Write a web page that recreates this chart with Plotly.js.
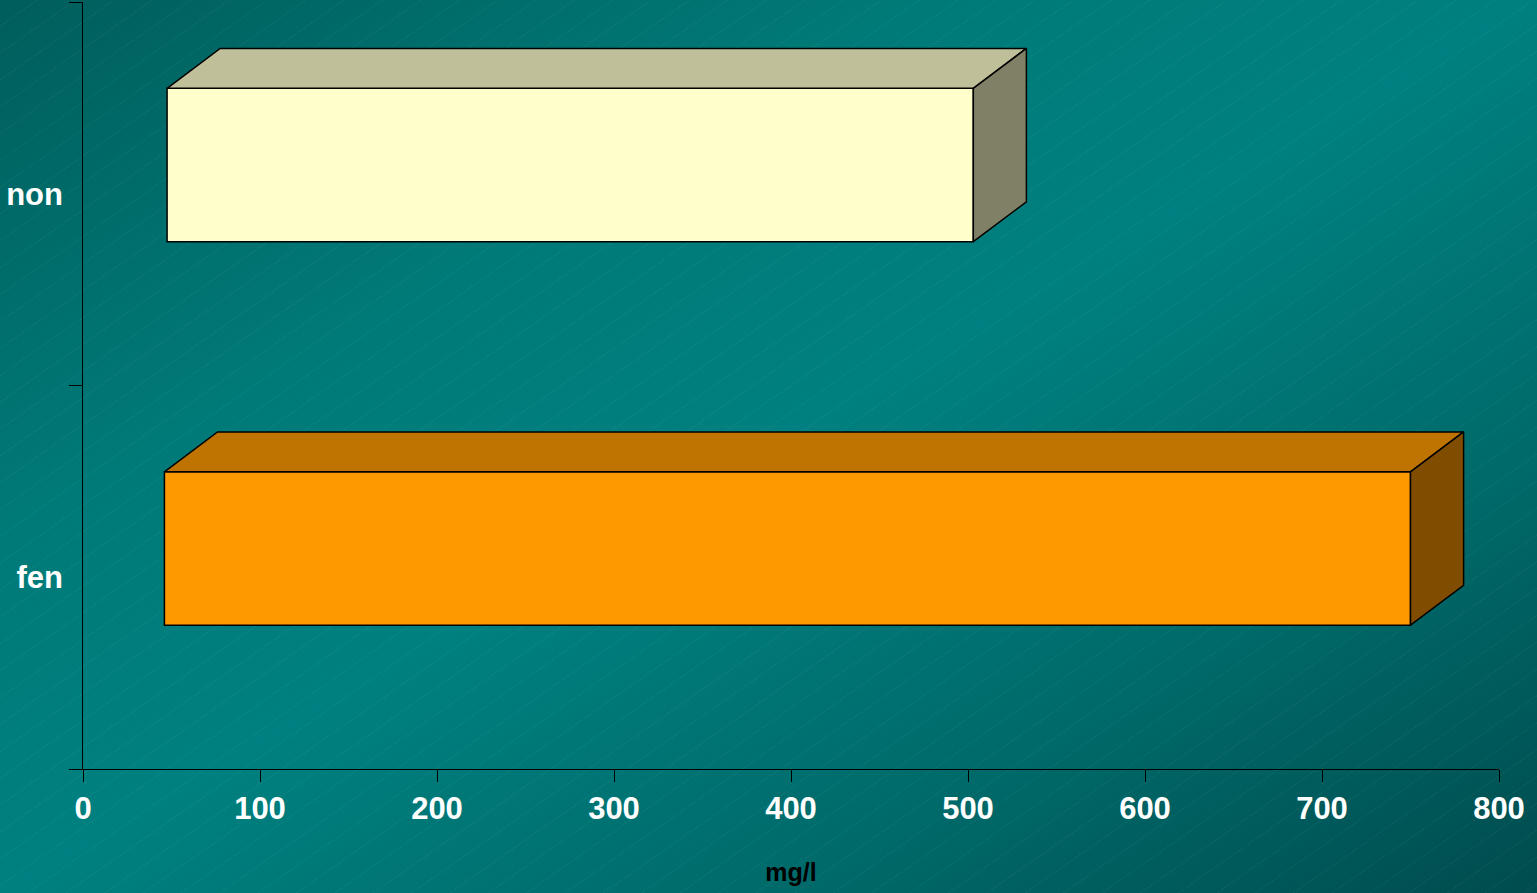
<!DOCTYPE html>
<html>
<head>
<meta charset="utf-8">
<script src="https://cdn.plot.ly/plotly-3.0.1.min.js"></script>
<style>
  html, body { margin: 0; padding: 0; width: 1537px; height: 893px; overflow: hidden; }
  body {
    background:
      repeating-linear-gradient(145deg, rgba(255,255,255,0) 0px, rgba(255,255,255,0) 21px, rgba(255,255,255,0.035) 21px, rgba(255,255,255,0.035) 22px),
      linear-gradient(to bottom right, #005e5c 0%, #007a78 30%, #008080 50%, #006a6a 75%, #004c4e 100%);
  }
  #chart { width: 1537px; height: 893px; }
</style>
</head>
<body>
<div id="chart"></div>
<script>
// ---- data ----
const categories = ['fen', 'non'];
const startValues = [46, 47.5];
const endValues = [750, 503];
const xTickValues = [0, 100, 200, 300, 400, 500, 600, 700, 800];
const xTitle = 'mg/l';

// ---- styles ----
const frontColors = ['#FF9900', '#FFFFCC'];
const topColors = ['#BF7300', '#BFBF99'];
const sideColors = ['#804D00', '#808066'];
const barOffset = -0.125, barWidth = 0.4;
const depthX = 30, depthY = 0.104;
const edge = { color: '#000000', width: 1.5 };
const fontFamily = '"Liberation Sans", Arial, sans-serif';

const positions = categories.map((c, i) => i);
const traces = [];

// top and side faces (computed from data through the axes)
categories.forEach((c, i) => {
  const s = startValues[i], e = endValues[i];
  const y0 = positions[i] + barOffset, y1 = y0 + barWidth;
  traces.push({
    type: 'scatter', mode: 'lines', fill: 'toself', fillcolor: topColors[i],
    x: [s, e, e + depthX, s + depthX, s],
    y: [y1, y1, y1 + depthY, y1 + depthY, y1],
    line: edge, hoverinfo: 'skip', showlegend: false
  });
  traces.push({
    type: 'scatter', mode: 'lines', fill: 'toself', fillcolor: sideColors[i],
    x: [e, e + depthX, e + depthX, e, e],
    y: [y0, y0 + depthY, y1 + depthY, y1, y0],
    line: edge, hoverinfo: 'skip', showlegend: false
  });
});

// front faces
traces.push({
  type: 'bar', orientation: 'h',
  y: positions,
  x: endValues.map((e, i) => e - startValues[i]),
  base: startValues,
  width: barWidth, offset: barOffset,
  marker: { color: frontColors, line: edge },
  showlegend: false, hoverinfo: 'skip'
});

// invisible trace to carry the category labels axis
traces.push({
  type: 'scatter', mode: 'markers', x: [0, 0], y: positions, yaxis: 'y2',
  marker: { opacity: 0 }, hoverinfo: 'skip', showlegend: false
});

const layout = {
  width: 1537, height: 893,
  margin: { l: 83, r: 38, t: 2, b: 124, pad: 0 },
  paper_bgcolor: 'rgba(0,0,0,0)',
  plot_bgcolor: 'rgba(0,0,0,0)',
  showlegend: false,
  font: { family: fontFamily, color: '#ffffff' },
  xaxis: {
    range: [0, 800], tickvals: xTickValues,
    ticks: 'outside', ticklen: 12, tickcolor: '#000000', tickwidth: 1,
    showline: true, linecolor: '#000000', linewidth: 1,
    showgrid: false, zeroline: false,
    tickfont: { family: fontFamily, size: 31, color: '#ffffff', weight: 'bold' },
    title: { text: xTitle, font: { family: fontFamily, size: 25, color: '#000000', weight: 'bold' }, standoff: 38 }
  },
  yaxis: {
    range: [-0.5, 1.5], tickvals: [-0.5, 0.5, 1.5],
    ticks: 'outside', ticklen: 13, tickcolor: '#000000', tickwidth: 1,
    showticklabels: false,
    showline: true, linecolor: '#000000', linewidth: 1,
    showgrid: false, zeroline: false
  },
  yaxis2: {
    overlaying: 'y', side: 'left', range: [-0.5, 1.5],
    tickvals: positions, ticktext: categories,
    ticks: '', showline: false, showgrid: false, zeroline: false,
    ticklabelstandoff: 19,
    tickfont: { family: fontFamily, size: 31, color: '#ffffff', weight: 'bold' }
  }
};

Plotly.newPlot('chart', traces, layout, { displayModeBar: false, staticPlot: true });
</script>
</body>
</html>
